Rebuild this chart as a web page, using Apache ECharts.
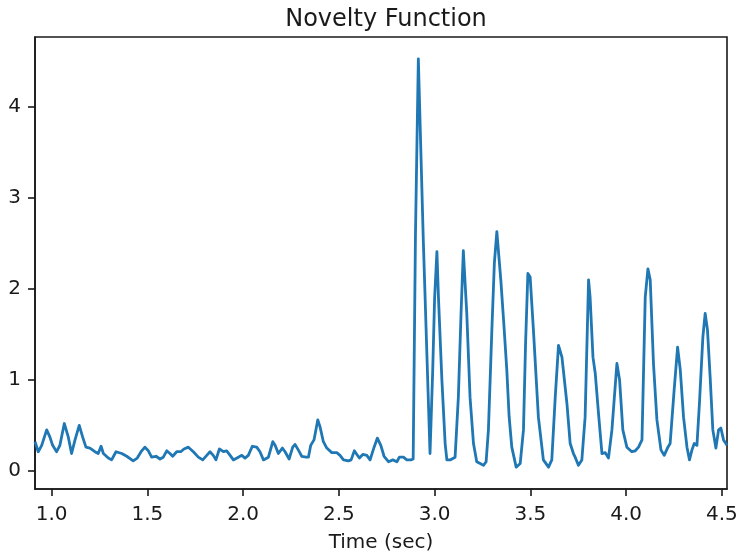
<!DOCTYPE html>
<html>
<head>
<meta charset="utf-8">
<script src="https://cdn.jsdelivr.net/npm/echarts@6/dist/echarts.min.js"></script>
<style>
html,body{margin:0;padding:0;background:#fff;}
#chart{width:739px;height:556px;}
</style>
</head>
<body>
<div id="chart"></div>
<script>
const times = [0.913,0.930,0.948,0.974,0.991,1.005,1.026,1.043,1.066,1.087,
1.104,1.122,1.144,1.162,1.179,1.200,1.226,1.243,1.258,1.270,
1.296,1.313,1.336,1.366,1.392,1.426,1.447,1.467,1.487,1.505,
1.522,1.545,1.566,1.583,1.601,1.618,1.632,1.653,1.674,1.691,
1.714,1.740,1.766,1.789,1.810,1.827,1.844,1.858,1.876,1.897,
1.914,1.932,1.949,1.975,1.993,2.010,2.027,2.048,2.071,2.088,
2.106,2.132,2.155,2.167,2.184,2.205,2.219,2.240,2.259,2.271,
2.288,2.306,2.329,2.341,2.353,2.370,2.390,2.402,2.419,2.437,
2.463,2.489,2.506,2.524,2.550,2.564,2.581,2.594,2.607,2.625,
2.646,2.663,2.684,2.701,2.719,2.736,2.759,2.782,2.803,2.816,
2.837,2.855,2.876,2.888,2.900,2.915,2.941,2.976,2.990,3.000,
3.012,3.020,3.038,3.055,3.064,3.081,3.107,3.124,3.138,3.150,
3.168,3.185,3.203,3.220,3.238,3.255,3.269,3.281,3.299,3.312,
3.325,3.346,3.362,3.377,3.389,3.403,3.426,3.447,3.464,3.475,
3.487,3.499,3.516,3.542,3.568,3.595,3.612,3.630,3.647,3.665,
3.691,3.708,3.725,3.734,3.751,3.769,3.786,3.804,3.812,3.827,
3.839,3.856,3.874,3.891,3.908,3.926,3.952,3.966,3.983,4.004,
4.030,4.048,4.065,4.083,4.100,4.114,4.126,4.143,4.161,4.182,
4.199,4.216,4.230,4.251,4.269,4.283,4.300,4.318,4.331,4.344,
4.356,4.370,4.383,4.401,4.413,4.425,4.439,4.453,4.469,4.483,
4.495,4.509,4.527];

const novelty = [0.32,0.21,0.28,0.45,0.37,0.28,0.21,0.28,0.52,0.37,
0.19,0.34,0.50,0.37,0.26,0.25,0.21,0.19,0.27,0.19,
0.14,0.12,0.21,0.19,0.16,0.11,0.14,0.21,0.26,0.22,
0.15,0.16,0.13,0.15,0.22,0.19,0.16,0.21,0.21,0.24,
0.26,0.21,0.15,0.12,0.17,0.21,0.17,0.12,0.24,0.21,
0.22,0.17,0.12,0.15,0.17,0.14,0.17,0.27,0.26,0.21,
0.12,0.15,0.32,0.28,0.19,0.25,0.21,0.13,0.26,0.29,
0.23,0.16,0.15,0.15,0.28,0.34,0.56,0.48,0.32,0.25,
0.20,0.20,0.17,0.12,0.11,0.12,0.22,0.18,0.14,0.18,
0.17,0.12,0.26,0.36,0.28,0.16,0.10,0.12,0.10,0.15,
0.15,0.12,0.12,0.13,2.6,4.53,2.53,0.19,1.1,1.9,
2.41,1.91,1.0,0.30,0.12,0.12,0.15,0.81,1.73,2.42,
1.73,0.81,0.30,0.10,0.08,0.06,0.10,0.45,1.55,2.28,
2.63,2.09,1.6,1.11,0.6,0.26,0.04,0.08,0.45,1.4,
2.17,2.13,1.55,0.59,0.12,0.04,0.12,0.81,1.38,1.25,
0.74,0.30,0.19,0.15,0.06,0.12,0.59,2.10,1.91,1.25,
1.07,0.63,0.19,0.20,0.14,0.45,1.18,1.00,0.45,0.26,
0.21,0.22,0.26,0.34,1.91,2.22,2.10,1.18,0.56,0.23,
0.17,0.25,0.30,0.89,1.36,1.11,0.59,0.26,0.12,0.23,
0.30,0.28,0.74,1.47,1.73,1.55,1.03,0.45,0.25,0.45,
0.47,0.34,0.28];

const xTicks = [1.0,1.5,2.0,2.5,3.0,3.5,4.0,4.5];
const yTicks = [0,1,2,3,4];

const FONT = "'DejaVu Sans', sans-serif";
const INK = '#1a1a1a';
const chart = echarts.init(document.getElementById('chart'), null, {renderer:'canvas'});
chart.setOption({
  animation: false,
  backgroundColor: '#fff',
  title: {
    text: 'Novelty Function',
    left: 381, top: 3, textAlign: 'center',
    textStyle: {fontFamily: FONT, fontSize: 24, fontWeight: 'normal', color: INK}
  },
  grid: {left: 35, right: 12, top: 37, bottom: 67, show: true, borderColor: INK, borderWidth: 1.6,
    outerBoundsMode: 'none', containLabel: false},
  xAxis: {
    type: 'value', min: 0.913, max: 4.527,
    name: 'Time (sec)', nameLocation: 'middle', nameGap: 44,
    nameTextStyle: {fontFamily: FONT, fontSize: 20, color: INK},
    axisLine: {show: true, onZero: false, lineStyle: {color: INK, width: 1.6}},
    axisTick: {show: true, length: 7, lineStyle: {color: INK, width: 1.6}, customValues: xTicks},
    axisLabel: {show: true, margin: 16, fontFamily: FONT, fontSize: 20, color: INK, customValues: xTicks,
      formatter: v => v.toFixed(1)},
    splitLine: {show: false}
  },
  yAxis: {
    type: 'value', min: -0.2, max: 4.77,
    axisLine: {show: true, onZero: false, lineStyle: {color: INK, width: 1.6}},
    axisTick: {show: true, length: 7, lineStyle: {color: INK, width: 1.6}, customValues: yTicks},
    axisLabel: {show: true, margin: 14, fontFamily: FONT, fontSize: 20, color: INK, customValues: yTicks},
    splitLine: {show: false}
  },
  series: [{
    type: 'line',
    data: times.map((t, i) => [t, novelty[i]]),
    showSymbol: false,
    smooth: false,
    lineStyle: {color: '#1f77b4', width: 2.8, join: 'round'}
  }]
});
</script>
</body>
</html>
